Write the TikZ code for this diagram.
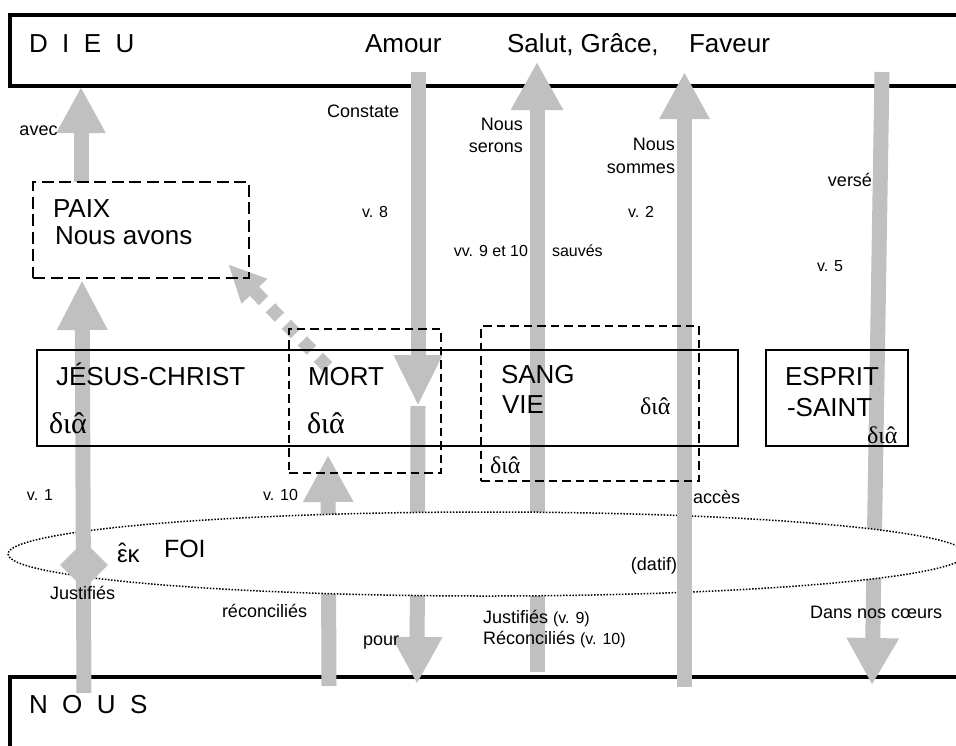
\documentclass[tikz,border=0pt]{standalone}
\usepackage{fontspec}
\setmainfont{Liberation Sans}
\newfontfamily\grk{Liberation Serif}
\newfontfamily\widesans{Liberation Sans}[WordSpace=2.0]
\usetikzlibrary{arrows.meta,shapes.geometric}
\definecolor{agray}{RGB}{192,192,192}
\newcommand\hatalpha{{\ooalign{α\cr\hidewidth ˆ\hidewidth\cr}}}
\newcommand\hateps{{\ooalign{ε\cr\hidewidth\raisebox{0.06em}{ˆ}\hidewidth\cr}}}
\tikzset{
  frame/.style={draw=black, line width=4pt, inner sep=0pt, outer sep=0pt, anchor=north west},
  sbox/.style={draw=black, line width=1.8pt, inner sep=0pt, outer sep=0pt},
  pbox/.style={draw=black, line width=2pt, dash pattern=on 12pt off 5.5pt, inner sep=0pt, outer sep=0pt},
  dbox/.style={draw=black, line width=2pt, dash pattern=on 8.5pt off 5pt, inner sep=0pt, outer sep=0pt},
  garrow/.style={draw=agray, line width=15pt, -{Triangle[length=#1,width=47pt]}},
  garrow/.default=47pt,
  lab/.style={anchor=base west, inner sep=0pt, outer sep=0pt},
  rlab/.style={anchor=base east, inner sep=0pt, outer sep=0pt},
  big/.style={font=\fontsize{26}{30}\selectfont},
  small/.style={font=\fontsize{18}{21}\selectfont},
  tiny/.style={font=\fontsize{16}{19}\selectfont},
  grkbig/.style={font=\grk\fontsize{30}{34}\selectfont},
  grksmall/.style={font=\grk\fontsize{24}{28}\selectfont},
}
\begin{document}
\begin{tikzpicture}[x=1pt,y=-1pt]
\useasboundingbox (0,0) rectangle (956,745);
\clip (0,0) rectangle (956,745);
\fill[white] (0,0) rectangle (956,745);

% DIEU and NOUS frames
\node[frame, minimum width=975pt, minimum height=70.5pt] (dieu) at (10,15) {};
\node[frame, minimum width=975pt, minimum height=120pt] (nous) at (10,676.5) {};

% arrow end points
\coordinate (amTop) at (418,72);
\coordinate (amMid) at (418,406);
\coordinate (amBot) at (417,684);
\coordinate (saBot) at (537,672);
\coordinate (saTop) at (537,62);
\coordinate (esTop) at (882,72);
\coordinate (esBot) at (872,685);
\coordinate (moBot) at (329,686);
\coordinate (moTop) at (328,455);
\coordinate (jeBot) at (84,693);
\coordinate (jeMid) at (82,280);
\coordinate (jeUp) at (81,182);
\coordinate (jeTop) at (81,87);
\coordinate (faBot) at (684.5,687);
\coordinate (faTop) at (684.5,72);
\coordinate (dgStart) at (327.5,366.7);
\coordinate (dgTip) at (228,264);

% arrows hidden by the ellipse
\draw[garrow=51pt, -{Triangle[length=51pt,width=45pt]}] (amTop) -- (amMid);
\draw[garrow] (amMid) -- (amBot);
\draw[garrow=48pt, -{Triangle[length=48pt,width=49pt]}] (saBot) -- (saTop);
\draw[garrow, -{Triangle[length=47pt,width=49pt]}] (esTop) -- (esBot);
\draw[garrow] (moBot) -- (moTop);

% FOI ellipse
\node[ellipse, draw=black, fill=white, line width=1.5pt, dash pattern=on 1.5pt off 1.6pt,
      minimum width=958pt, minimum height=84pt, inner sep=0pt] (foi) at (487,554) {};

% arrows over the ellipse
\draw[garrow=50pt] (jeBot) -- (jeMid);
\draw[garrow=46pt, -{Triangle[length=46pt,width=46pt]}] (jeUp) -- (jeTop);
\node[diamond, fill=agray, minimum width=48pt, minimum height=48pt, inner sep=0pt, aspect=1] (diam) at (84,565) {};
\draw[garrow] (faBot) -- (faTop);

% dashed diagonal arrow
\draw[draw=agray, line width=13pt, dash pattern=on 13pt off 10pt, -{Triangle[length=38pt,width=33pt]}] (dgStart) -- (dgTip);

% boxes
\node[pbox, minimum width=216pt, minimum height=96pt] (paix) at (141,230) {};
\node[sbox, minimum width=701pt, minimum height=96pt] (jesus) at (387.5,398) {};
\node[sbox, minimum width=142pt, minimum height=96pt] (esprit) at (837,398) {};
\node[dbox, minimum width=152pt, minimum height=144pt] (mort) at (365,401) {};
\node[dbox, minimum width=218pt, minimum height=155pt] (sang) at (590,403.5) {};

% texts at top
\node[lab, font=\widesans\fontsize{26}{30}\selectfont] (tdieu) at (29,52) {D I E U};
\node[lab, big] (tamour) at (365,52) {Amour};
\node[lab, big] (tsalut) at (507,52) {Salut, Grâce,};
\node[lab, big] (tfaveur) at (689,52) {Faveur};

\node[lab, small] (tconst) at (327,117) {Constate};
\node[lab, small] (tavec) at (19.5,135) {avec};
\node[rlab, small] (tnous1) at (523,130) {Nous};
\node[rlab, small] (tserons) at (523,152) {serons};
\node[rlab, small] (tnous2) at (675,150) {Nous};
\node[rlab, small] (tsommes) at (675,173) {sommes};
\node[rlab, small] (tverse) at (872,186) {versé};
\node[lab, tiny] (tv8) at (362,217) {v. 8};
\node[lab, tiny] (tv2) at (628,217) {v. 2};
\node[rlab, tiny] (tvv) at (528,256) {vv. 9 et 10};
\node[lab, tiny] (tsauves) at (552,256) {sauvés};
\node[lab, tiny] (tv5) at (817,271) {v. 5};

\node[lab, big] (tpaix) at (53,217) {PAIX};
\node[lab, big] (tavons) at (55,244) {Nous avons};

\node[lab, big] (tjc) at (56,385) {JÉSUS-CHRIST};
\node[lab, grkbig] (gjc) at (49,433) {δι\hatalpha};
\node[lab, big] (tmort) at (308,385) {MORT};
\node[lab, grkbig] (gmort) at (307,433) {δι\hatalpha};
\node[lab, big] (tsang) at (501,383) {SANG};
\node[lab, big] (tvie) at (502,413) {VIE};
\node[lab, grksmall] (gsang) at (640,414) {δι\hatalpha};
\node[lab, grksmall] (gsang2) at (490,473) {δι\hatalpha};
\node[lab, big] (tesp) at (785,385) {ESPRIT};
\node[lab, big] (tsaint) at (787,416) {-SAINT};
\node[lab, grksmall] (gesp) at (867,443) {δι\hatalpha};

\node[lab, tiny] (tv1) at (27,500) {v. 1};
\node[lab, tiny] (tv10) at (263,500) {v. 10};
\node[lab, small] (tacces) at (693,503) {accès};
\node[lab, font=\fontsize{24}{28}\selectfont] (tek) at (117,562) {\hateps κ};
\node[lab, font=\fontsize{25}{29}\selectfont] (tfoi) at (164,557) {FOI};
\node[rlab, small] (tdatif) at (677,570) {(datif)};
\node[lab, small] (tjust) at (50,599) {Justifiés};
\node[lab, small] (treco) at (222,617) {réconciliés};
\node[lab, small] (tpour) at (363,645) {pour};
\node[lab, small] (tjust9) at (483,623) {Justifiés {\fontsize{16}{19}\selectfont (v. 9)}};
\node[lab, small] (treco10) at (483,644) {Réconciliés {\fontsize{16}{19}\selectfont (v. 10)}};
\node[lab, small] (tcoeurs) at (810,618) {Dans nos cœurs};
\node[lab, font=\widesans\fontsize{26}{30}\selectfont] (tnous) at (29,713) {N O U S};
\end{tikzpicture}
\end{document}
